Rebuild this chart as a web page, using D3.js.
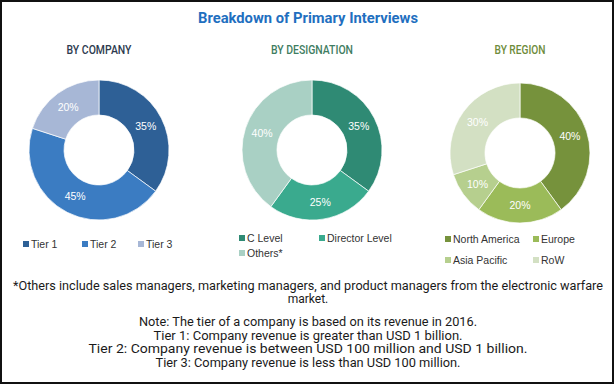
<!DOCTYPE html>
<html><head><meta charset="utf-8">
<script src="https://cdn.jsdelivr.net/npm/d3@7"></script>
<style>
html,body{margin:0;padding:0;background:#fff;}
svg{display:block;}
</style></head>
<body>
<svg id="chart" width="615" height="386"></svg>
<script>
// ---- data ----
const companyCats = ["Tier 1", "Tier 2", "Tier 3"];
const companyVals = [35, 45, 20];
const designationCats = ["C Level", "Director Level", "Others*"];
const designationVals = [35, 25, 40];
const regionCats = ["North America", "Europe", "Asia Pacific", "RoW"];
const regionVals = [40, 20, 10, 30];
const titleText = "Breakdown of Primary Interviews";
const subtitles = ["BY COMPANY", "BY DESIGNATION", "BY REGION"];
const footLines = [
  "*Others include sales managers, marketing managers, and product managers from the electronic warfare",
  "market.",
  "Note: The tier of a company is based on its revenue in 2016.",
  "Tier 1: Company revenue is greater than USD 1 billion.",
  "Tier 2: Company revenue is between USD 100 million and USD 1 billion.",
  "Tier 3: Company revenue is less than USD 100 million."
];

// ---- styles / layout ----
const svg = d3.select("#chart");
const cond = "Roboto,'Liberation Sans Narrow','DejaVu Sans Condensed',sans-serif";
const sans = "'Liberation Sans',Arial,sans-serif";

svg.append("rect").attr("x",1).attr("y",1).attr("width",612).attr("height",382)
  .attr("fill","#fff").attr("stroke","#111").attr("stroke-width",2);

svg.append("text").attr("x",308).attr("y",23).attr("text-anchor","middle")
  .attr("font-family",cond).attr("font-weight","bold").attr("font-size",15.5)
  .attr("fill","#1f6fbf").attr("textLength",220).attr("lengthAdjust","spacingAndGlyphs")
  .text(titleText);

const charts = [
  {cats: companyCats, vals: companyVals, cx: 99, cy: 150, sub: subtitles[0], subColor: "#2d3b4f", subW: 65,
   colors: ["#2e6096", "#3b7cc2", "#a7b7d6"],
   legend: [[23,244],[82,244],[138,244]]},
  {cats: designationCats, vals: designationVals, cx: 312, cy: 150, sub: subtitles[1], subColor: "#3f7d62", subW: 82,
   colors: ["#2f8a74", "#3aaa8e", "#a9d0c4"],
   legend: [[239,238],[319,238],[239,253]]},
  {cats: regionCats, vals: regionVals, cx: 520, cy: 153, sub: subtitles[2], subColor: "#6e8c3b", subW: 51,
   colors: ["#76923c", "#9bbb59", "#b6cf8e", "#d3e0c3"],
   legend: [[445,239],[533,239],[445,260],[533,260]]}
];

const outerR = 70, innerR = 35;
const arc = d3.arc().innerRadius(innerR).outerRadius(outerR);
const pie = d3.pie().sort(null).value(d => d);

charts.forEach(c => {
  svg.append("text").attr("x", c.cx).attr("y", 54).attr("text-anchor","middle")
    .attr("font-family",cond).attr("font-weight",500).attr("font-size",12.5).attr("fill",c.subColor)
    .attr("textLength",c.subW).attr("lengthAdjust","spacingAndGlyphs")
    .text(c.sub);

  const color = d3.scaleOrdinal().domain(c.cats).range(c.colors);
  const g = svg.append("g").attr("transform",`translate(${c.cx},${c.cy})`);
  const arcs = pie(c.vals).map((a,i) => Object.assign(a,{cat:c.cats[i]}));
  g.selectAll("path").data(arcs).join("path")
    .attr("d",arc).attr("fill",d => color(d.cat))
    .attr("stroke","#ffffff").attr("stroke-width",0.7);
  g.selectAll("text").data(arcs).join("text")
    .attr("transform",d => `translate(${arc.centroid(d)})`)
    .attr("text-anchor","middle").attr("dy","0.35em")
    .attr("font-family",sans).attr("font-size",10.5).attr("fill","#ffffff")
    .text(d => d.value + "%");

  const lg = svg.append("g");
  c.cats.forEach((cat,i) => {
    const [lx,ly] = c.legend[i];
    lg.append("rect").attr("x",lx).attr("y",ly-3).attr("width",6).attr("height",6).attr("fill",color(cat));
    lg.append("text").attr("x",lx+8).attr("y",ly).attr("dy","0.35em")
      .attr("font-family",sans).attr("font-size",10.5).attr("fill","#333")
      .text(cat);
  });
});

const footY = [290, 303, 326, 340, 353, 367];
const footW = [590, 0, 338, 309, 439, 305];
footLines.forEach((t,i) => {
  const el = svg.append("text").attr("x",308).attr("y",footY[i]).attr("text-anchor","middle")
    .attr("font-family",cond).attr("font-size",12).attr("fill","#1a1a1a")
    .text(t);
  if (footW[i]) el.attr("textLength",footW[i]).attr("lengthAdjust","spacingAndGlyphs");
});
</script>
</body></html>
